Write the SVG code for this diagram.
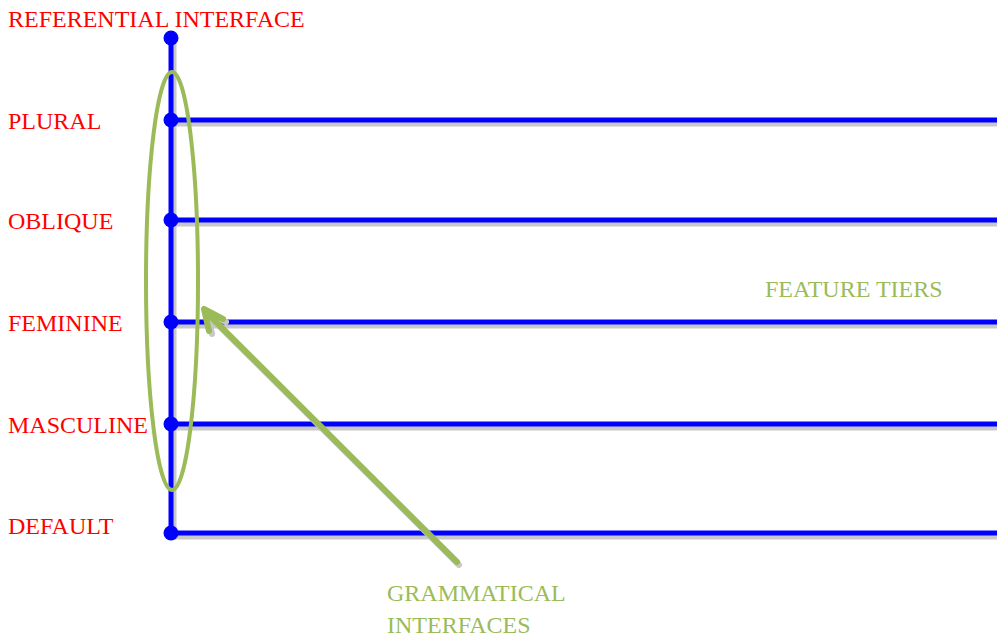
<svg xmlns="http://www.w3.org/2000/svg" width="997" height="637" viewBox="0 0 997 637">
<defs>
<style>
.lbl{font-family:"Liberation Serif","Times New Roman",serif;font-size:24px;fill:#ff0000}
.glbl{font-family:"Liberation Serif","Times New Roman",serif;font-size:24px;fill:#9bbb59}
.tier{stroke:#0000ff;stroke-width:5;fill:none}
.shadow{stroke:#c8c8c8;stroke-width:5;fill:none}
.dot{fill:#0000ff}
</style>
</defs>
<rect width="997" height="637" fill="#ffffff"/>
<g id="connectors">
<g id="shadows">
<line class="shadow" x1="174" y1="41" x2="174" y2="536"/>
<line class="shadow" x1="171" y1="124" x2="997" y2="124"/>
<line class="shadow" x1="171" y1="224" x2="997" y2="224"/>
<line class="shadow" x1="171" y1="326" x2="997" y2="326"/>
<line class="shadow" x1="171" y1="428" x2="997" y2="428"/>
<line class="shadow" x1="171" y1="537" x2="997" y2="537"/>
</g>
<line class="tier" x1="171" y1="38" x2="171" y2="533"/>
<line class="tier" x1="171" y1="120" x2="997" y2="120"/>
<line class="tier" x1="171" y1="220" x2="997" y2="220"/>
<line class="tier" x1="171" y1="322" x2="997" y2="322"/>
<line class="tier" x1="171" y1="424" x2="997" y2="424"/>
<line class="tier" x1="171" y1="533" x2="997" y2="533"/>
<g id="arrow">
<path d="M459 565 L208 315 M207 312 L226 322 M207 312 L212 334" stroke="#c8c8c8" stroke-width="6" fill="none" stroke-linecap="round"/>
<path d="M457 562 L206 312 M204 309 L223 319 M204 309 L209 331" stroke="#9bbb59" stroke-width="6" fill="none" stroke-linecap="round" stroke-linejoin="round"/>
</g>
</g>
<g id="dots">
<circle class="dot" cx="171" cy="38" r="7.5"/>
<circle class="dot" cx="171" cy="120" r="7.5"/>
<circle class="dot" cx="171" cy="220" r="7.5"/>
<circle class="dot" cx="171" cy="322" r="7.5"/>
<circle class="dot" cx="171" cy="424" r="7.5"/>
<circle class="dot" cx="171" cy="533" r="7.5"/>
</g>
<g id="ellipse">
<ellipse cx="172" cy="281" rx="26" ry="209" fill="none" stroke="#9bbb59" stroke-width="4"/>
</g>
<g id="labels">
<text class="lbl" x="8" y="27">REFERENTIAL INTERFACE</text>
<text class="lbl" x="8" y="129">PLURAL</text>
<text class="lbl" x="8" y="229">OBLIQUE</text>
<text class="lbl" x="8" y="331">FEMININE</text>
<text class="lbl" x="8" y="433">MASCULINE</text>
<text class="lbl" x="8" y="534">DEFAULT</text>
<text class="glbl" x="765" y="297">FEATURE TIERS</text>
<text class="glbl" x="387" y="601">GRAMMATICAL</text>
<text class="glbl" x="387" y="633">INTERFACES</text>
</g>
</svg>
